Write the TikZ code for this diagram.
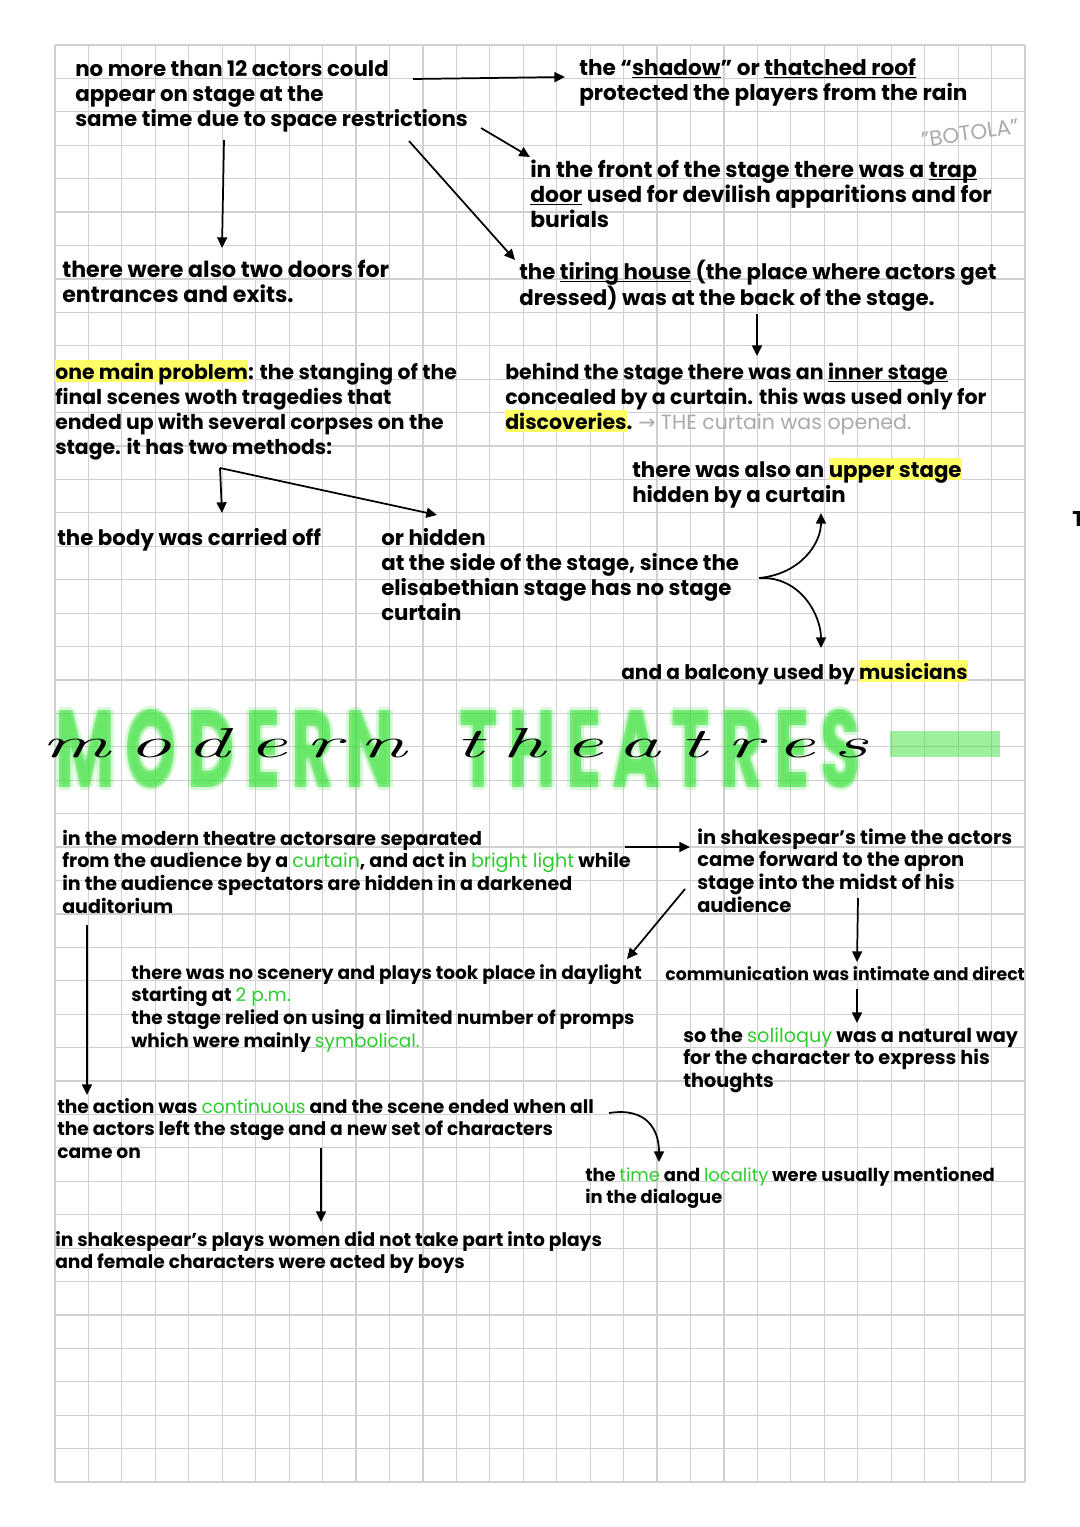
\documentclass[tikz,border=0pt]{standalone}
\usepackage{fontspec}
\setmainfont{Poppins}
\newfontfamily\dejavu{DejaVu Sans}
\newfontfamily\cursivefont{Latin Modern Roman}[LetterSpace=22]
\usetikzlibrary{arrows.meta,calc}
\definecolor{gridc}{RGB}{208,208,208}
\definecolor{hly}{RGB}{255,255,102}
\definecolor{grn}{RGB}{45,205,45}
\definecolor{gry}{RGB}{170,170,170}
\definecolor{ttl}{RGB}{60,225,60}
\newcommand\lines[1]{\vtop{\halign{##\hfil\cr#1\crcr}}}
\newcommand\hl[1]{\setbox0\hbox{#1}\rlap{\textcolor{hly}{\rule[-2.25pt]{\wd0}{16.5pt}}}\box0\relax}
\newcommand\uln[1]{\setbox0\hbox{#1}\rlap{\rule[-2.6pt]{\wd0}{1pt}}\box0\relax}
\newcommand\gr[1]{\textcolor{grn}{\mdseries #1}}
\tikzset{
  main/.style={inner sep=0pt, anchor=base west, font=\fontsize{16pt}{18.75pt}\selectfont\bfseries},
  big/.style={main, font=\fontsize{#1}{18.75pt}\selectfont\bfseries},
  fs/.style={main, font=\fontsize{#1}{17pt}\selectfont\bfseries},
  arr/.style={-{Triangle[length=8pt,width=7.5pt]}, line width=1.3pt},
  gridline/.style={gridc, line width=0.9pt}
}
\begin{document}
\begin{tikzpicture}[x=0.75pt,y=-0.75pt]
\useasboundingbox (0,0) rectangle (1080,1527);
\fill[white] (0,0) rectangle (1080,1527);
% grid
\foreach \i in {0,...,29} \draw[gridline] ({55+\i*33.448},45) -- ({55+\i*33.448},1482);
\foreach \j in {0,...,43} \draw[gridline] (55,{45+\j*33.419}) -- (1025,{45+\j*33.419});

% upper part
\node (n1) [main] at (75,76) {\lines{no more than 12 actors could\cr appear on stage at the\cr same time due to space restrictions}};
\node (n2) [big=16.2pt] at (579,75) {\lines{the “\uln{shadow}” or \uln{thatched roof}\cr protected the players from the rain}};
\node (n3) [big=16.4pt] at (530,177) {\lines{in the front of the stage there was a \uln{trap}\cr \uln{door} used for devilish apparitions and for\cr burials}};
\node (botola) [rotate=8, text=gry, font=\fontsize{16pt}{16pt}\selectfont] at (970,133) {"BOTOLA"};
\node (n5) [big=16.6pt] at (62,277) {\lines{there were also two doors for\cr entrances and exits.}};
\node (n6) [main] at (519,279) {\lines{the \uln{tiring house} (the place where actors get\cr dressed) was at the back of the stage.}};
\node (n7) [big=15.3pt] at (55,379) {\lines{\hl{one main problem}: the stanging of the\cr final scenes woth tragedies that\cr ended up with several corpses on the\cr stage. it has two methods:}};
\node (n8) [big=15.4pt] at (505,379) {\lines{behind the stage there was an \uln{inner stage}\cr concealed by a curtain. this was used only for\cr \hl{discoveries}. {\mdseries\color{gry}{\dejavu →} THE curtain was opened.}}};
\node (n9) [main] at (632,477) {\lines{there was also an \hl{upper stage}\cr hidden by a curtain}};
\node (n10) [main] at (57,545) {the body was carried off};
\node (n11) [main] at (381,545) {\lines{or hidden\cr at the side of the stage, since the\cr elisabethian stage has no stage\cr curtain}};
\node (n12) [big=15.1pt] at (621,679) {and a balcony used by \hl{musicians}};
\node (edgeT) [main] at (1072,526) {T};

% title
\foreach \dx/\dy/\op [count=\k] in {-3/0/0.2, 3/0/0.2, 0/-3/0.2, 0/3/0.2, 0/0/0.42}
  \node (tglow\k) [anchor=south west, inner sep=0pt, text=ttl, opacity=\op] at ({55+\dx},{789+\dy}) {\resizebox{603.75pt}{58.5pt}{\bfseries M\,O\,D\,E\,R\,N\quad T\,H\,E\,A\,T\,R\,E\,S}};
\fill[ttl, opacity=0.5] (890,731) rectangle (1000,757);
\node (script) [anchor=base west, inner sep=0pt] at (41,757) {\resizebox{620pt}{21.75pt}{\fontsize{31pt}{31pt}\cursivefont\itshape modern theatres}};

% lower part
\node (n13) [fs=14.3pt] at (62,845) {\lines{in the modern theatre actorsare separated\cr from the audience by a \gr{curtain}, and act in \gr{bright light} while\cr in the audience spectators are hidden in a darkened\cr auditorium}};
\node (n14) [fs=14.6pt] at (697,844) {\lines{in shakespear’s time the actors\cr came forward to the apron\cr stage into the midst of his\cr audience}};
\node (n15) [fs=13.9pt] at (131,979) {\lines{there was no scenery and plays took place in daylight\cr starting at \gr{2 p.m.}\cr the stage relied on using a limited number of promps\cr which were mainly \gr{symbolical.}}};
\node (n16) [fs=13pt] at (665,980) {communication was intimate and direct};
\node (n17) [fs=14.45pt] at (683,1042) {\lines{so the \gr{soliloquy} was a natural way\cr for the character to express his\cr thoughts}};
\node (n18) [fs=14pt] at (57,1113) {\lines{the action was \gr{continuous} and the scene ended when all\cr the actors left the stage and a new set of characters\cr came on}};
\node (n19) [fs=13.45pt] at (585,1181) {\lines{the \gr{time} and \gr{locality} were usually mentioned\cr in the dialogue}};
\node (n20) [fs=14pt] at (55,1246) {\lines{in shakespear’s plays women did not take part into plays\cr and female characters were acted by boys}};

% connector end points
\coordinate (a1s) at ($(n1.base west)+(338,3)$);
\coordinate (a1e) at ($(n2.base west)+(-14,2)$);
\coordinate (a2s) at ($(n1.base west)+(406,52)$);
\coordinate (a2e) at ($(n3.base west)+(0,-20)$);
\coordinate (a3s) at ($(n1.base west)+(334,65)$);
\coordinate (a3e) at ($(n6.base west)+(-4,-19)$);
\coordinate (a4s) at ($(n1.base west)+(149,64)$);
\coordinate (a4e) at ($(n5.base west)+(160,-29)$);
\coordinate (a5s) at ($(n6.base west)+(238,35)$);
\coordinate (a5e) at ($(n8.base west)+(252,-23)$);
\coordinate (fork1) at ($(n7.base west)+(165,89)$);
\coordinate (a6e) at ($(n10.base west)+(165,-32)$);
\coordinate (a6f) at ($(n11.base west)+(56,-30)$);
\coordinate (fork2) at ($(n11.base west)+(378,33)$);
\coordinate (a7e) at ($(n9.base west)+(189,36)$);
\coordinate (a7f) at ($(n12.base west)+(200,-31)$);
\coordinate (a8s) at ($(n13.base west)+(563,2)$);
\coordinate (a8e) at ($(n14.base west)+(-7,3)$);
\coordinate (a9s) at ($(n14.base west)+(-12,45)$);
\coordinate (a9e) at ($(n15.base west)+(496,-20)$);
\coordinate (a10s) at ($(n13.base west)+(25,80)$);
\coordinate (a10e) at ($(n18.base west)+(30,-18)$);
\coordinate (a11s) at ($(n14.base west)+(161,54)$);
\coordinate (a11e) at ($(n16.base west)+(192,-18)$);
\coordinate (a12s) at ($(n16.base west)+(192,9)$);
\coordinate (a12e) at ($(n17.base west)+(174,-19)$);
\coordinate (a13s) at ($(n18.base west)+(552,0)$);
\coordinate (a13e) at ($(n19.base west)+(74,-19)$);
\coordinate (a14s) at ($(n18.base west)+(264,35)$);
\coordinate (a14e) at ($(n20.base west)+(266,-24)$);

% connectors
\draw[arr] (a1s) -- (a1e);
\draw[arr] (a2s) -- (a2e);
\draw[arr] (a3s) -- (a3e);
\draw[arr] (a4s) -- (a4e);
\draw[arr] (a5s) -- (a5e);
\draw[arr] (fork1) -- (a6e);
\draw[arr] (fork1) -- (a6f);
\draw[arr] (fork2) .. controls ($(fork2)+(42,-4)$) and ($(a7e)+(0,30)$) .. (a7e);
\draw[arr] (fork2) .. controls ($(fork2)+(42,-2)$) and ($(a7f)+(0,-32)$) .. (a7f);
\draw[arr] (a8s) -- (a8e);
\draw[arr] (a9s) -- (a9e);
\draw[arr] (a10s) -- (a10e);
\draw[arr] (a11s) -- (a11e);
\draw[arr] (a12s) -- (a12e);
\draw[arr] (a13s) .. controls ($(a13s)+(38,-6)$) and ($(a13e)+(0,-32)$) .. (a13e);
\draw[arr] (a14s) -- (a14e);
\end{tikzpicture}
\end{document}
